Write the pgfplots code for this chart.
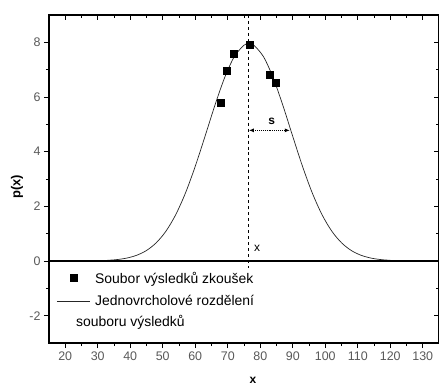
\documentclass[border=0pt]{standalone}
\usepackage{fontspec}
\setmainfont{Liberation Sans}
\usepackage{pgfplots}
\pgfplotsset{compat=1.18}
\usetikzlibrary{arrows.meta}
\pgfplotsset{
  legmark/.style={legend image code/.code={\draw[##1,mark repeat=2,mark phase=2] plot coordinates {(0bp,0bp) (16.5bp,0bp) (33bp,0bp)}; \path (36bp,0bp);}},
  legline/.style={legend image code/.code={\draw[##1] (0bp,0bp) -- (33bp,0bp); \path (36bp,0bp);}},
  common/.style={
    scale only axis, width=390bp, height=328bp,
    xmin=15, xmax=135, ymin=-3, ymax=9,
    xtick={20,30,...,130}, minor x tick num=1,
    ytick={-2,0,...,8}, minor y tick num=1,
    major tick length=5bp, minor tick length=3bp,
    axis line style={line width=1.3bp},
    every tick/.style={line width=1bp, black},
    /pgf/number format/assume math mode=true,
    tick label style={font=\fontsize{12.5}{14}\selectfont, text=black!65},
  }
}
\begin{document}
\begin{tikzpicture}
\begin{axis}[common,
  xtick pos=top, ytick pos=right, tick align=inside,
  xticklabels={}, yticklabels={}]
\end{axis}
\begin{axis}[common,
  xtick pos=bottom, ytick pos=left, tick align=outside,
  xlabel={\bfseries x},
  xlabel style={at={(axis description cs:0.523,-0.113)}, anchor=center, font=\fontsize{12}{14}\selectfont},
  ylabel={\bfseries p(x)},
  ylabel style={at={(axis description cs:-0.082,0.476)}, anchor=center, rotate=0, font=\fontsize{13}{15}\selectfont},
  legend cell align=left,
  legend style={at={(axis description cs:0.011,0.230)}, anchor=north west, draw=none, fill=none,
    font=\fontsize{14}{16.5}\selectfont, row sep=7bp,
    nodes={inner sep=2bp}},
]
\addplot[only marks, mark=square*, mark size=3.5bp, black, legmark]
  coordinates {(67.7,5.79) (69.7,6.95) (71.7,7.6) (76.9,7.91) (82.9,6.81) (84.9,6.52)};
\addlegendentry{Soubor výsledků zkoušek}
\addplot[black!85, line width=0.7bp, smooth, no marks, legline]
  coordinates {
  (33,0.025) (36,0.053) (39,0.109) (42,0.210) (45,0.385) (48,0.667)
  (51,1.093) (54,1.696) (57,2.491) (60,3.464) (63,4.559) (66,5.679)
  (69,6.696) (72,7.474) (75,7.896) (76.5,7.95) (78,7.896) (81,7.474)
  (84,6.696) (87,5.679) (90,4.559) (93,3.464) (96,2.491) (99,1.696)
  (102,1.093) (105,0.667) (108,0.385) (111,0.210) (114,0.109) (117,0.053) (120,0.025)};
\addlegendentry{Jednovrcholové rozdělení}
\addplot[black, line width=1.3bp, forget plot] coordinates {(15,0) (135,0)};
\addplot[black, dashed, line width=0.7bp, forget plot] coordinates {(76.3,9) (76.3,-0.26)};
\draw[densely dotted, line width=0.9bp, {Latex[length=5bp,width=4bp]}-{Latex[length=5bp,width=4bp]}]
  (axis cs:76.5,4.78) -- (axis cs:89.1,4.78);
\node[font=\bfseries\fontsize{12}{14}\selectfont] at (axis cs:83.5,5.1) {s};
\node[font=\fontsize{12}{14}\selectfont] at (axis cs:79.0,0.45) {x};
\node[anchor=west, inner sep=0pt, font=\fontsize{14}{16.5}\selectfont] at (axis cs:23.3,-2.24) {souboru výsledků};
\end{axis}
\pgfresetboundingbox
\path[use as bounding box] (-49bp,-44bp) rectangle (390bp,343bp);
\end{tikzpicture}
\end{document}
